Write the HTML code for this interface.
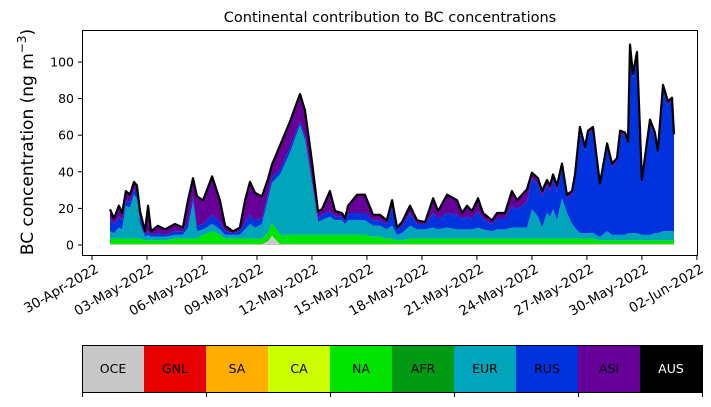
<!DOCTYPE html>
<html><head><meta charset="utf-8"><style>
body{margin:0;background:#fff;width:711px;height:402px;overflow:hidden;font-family:"Liberation Sans","DejaVu Sans",sans-serif}
svg text{font-family:"DejaVu Sans","Liberation Sans",sans-serif}
</style></head><body>
<svg id="c" width="711" height="402" xmlns="http://www.w3.org/2000/svg"></svg>
<script>
// days since 30-Apr-2022
const days=[0.98,1.20,1.47,1.64,1.85,2.07,2.29,2.45,2.62,2.89,3.06,3.22,3.60,3.98,4.53,4.96,5.24,5.51,5.73,6.06,6.55,6.98,7.26,7.69,8.07,8.35,8.62,8.89,9.27,9.60,9.82,10.26,10.80,11.35,11.62,12.00,12.33,12.55,12.98,13.26,13.64,13.80,13.97,14.46,14.89,15.33,15.71,16.09,16.37,16.64,16.91,17.35,17.73,18.17,18.61,18.88,19.37,19.91,20.19,20.46,20.73,21.06,21.33,21.82,22.10,22.53,22.91,23.19,23.73,24.00,24.33,24.55,24.82,24.99,25.15,25.37,25.64,25.91,26.19,26.35,26.62,26.90,27.06,27.33,27.71,28.10,28.37,28.64,28.81,29.08,29.24,29.35,29.51,29.73,30.00,30.44,30.71,30.87,31.15,31.42,31.64,31.75];
const oce=[0.5,0.5,0.5,0.5,0.5,0.5,0.5,0.5,0.5,0.5,0.5,0.5,0.5,0.5,0.5,0.5,0.5,0.5,0.5,0.5,0.5,0.5,0.5,0.5,0.5,0.5,0.5,0.5,0.5,2,5,0.5,0.5,0.5,0.5,0.5,0.5,0.5,0.5,0.5,0.5,0.5,0.5,0.5,0.5,0.5,0.5,0.5,0.5,0.5,0.5,0.5,0.5,0.5,0.5,0.5,0.5,0.5,0.5,0.5,0.5,0.5,0.5,0.5,0.5,0.5,0.5,0.5,0.5,0.5,0.5,0.5,0.5,0.5,0.5,0.5,0.5,0.5,0.5,0.5,0.5,0.5,0.5,0.5,0.5,0.5,0.5,0.5,0.5,0.5,0.5,0.5,0.5,0.5,0.5,0.5,0.5,0.5,0.5,0.5,0.5,0.5];
const na=[3,3,3,3,3,3,3,3,3,2,2,2,2,2,3,3,3,3,3,5,7,5,3,3,3,3,3,3,3,5,7,5,5,5,5,5,5,5,5,5,5,5,5,5,5,4,4,3,3,2,2,3,3,3,3,3,3,3,3,3,3,3,3,3,3,3,3,3,3,3,3,3,3,3,3,3,3,3,3,3,3,3,3,3,2,2,2,2,2,2,2,2,2,2,2,2,2,2,2,2,2,2];
const eur=[4,3,6,5,18,17,24,22,8,2,3,2,2,2,2,2,6,20,4,3,4,3,2,2,2,5,8,6,8,18,22,33,45,60,52,28,7,8,10,8,8,6,8,8,8,6,6,5,7,3,4,7,5,5,6,5,6,5,5,5,5,6,5,4,5,5,6,6,6,16,12,6,14,12,16,10,22,14,8,6,3,3,3,3,2,5,3,3,3,3,4,4,4,4,3,3,4,4,5,5,5,5];
const rus=[7,5,6,5,3,3,3,3,3,1,2,1,2,1,2,2,3,3,3,3,5,4,2,1,2,4,5,4,3,3,3,3,3,2,2,2,2,3,3,2,2,1,4,4,4,3,3,3,10,3,4,7,3,3,8,6,8,8,6,7,6,9,6,4,6,6,12,10,14,17,18,17,15,14,16,16,16,8,16,27,56,45,54,56,28,46,37,40,55,54,48,101,85,97,29,61,53,43,78,69,71,52];
const asi=[5,3,6,4,5,4,4,4,4,2,14,2,4,3,4,2,12,10,16,13,21,12,3,1,2,12,18,15,12,8,7,13,14,15,14,10,4,3,11,3,2,2,4,10,10,3,3,2,4,1,2,4,2,1,8,4,10,8,3,6,4,7,3,2,3,3,8,5,7,3,3,3,3,3,3,3,3,2,2,2,2,2,2,2,1,2,2,2,2,2,2,2,2,2,1,2,2,2,2,2,2,1];
const yTicks=[0,20,40,60,80,100];
const xTickDays=[0,3,6,9,12,15,18,21,24,27,30,33];
const xTickLabels=["30-Apr-2022","03-May-2022","06-May-2022","09-May-2022","12-May-2022","15-May-2022","18-May-2022","21-May-2022","24-May-2022","27-May-2022","30-May-2022","02-Jun-2022"];
const regions=["OCE","GNL","SA","CA","NA","AFR","EUR","RUS","ASI","AUS"];
const regionColors=["#c8c8c8","#e60000","#ffae00","#ccff00","#00e400","#009a14","#00a5bb","#0033dd","#660099","#000000"];

const NS="http://www.w3.org/2000/svg";
const svg=document.getElementById('c');
const X=d=>92+d*18.33, Y=v=>245-v*1.83;
function mk(tag,attrs,parent){const e=document.createElementNS(NS,tag);for(const k in attrs)e.setAttribute(k,attrs[k]);(parent||svg).appendChild(e);return e;}

const layers=[["oce",oce,regionColors[0]],["na",na,regionColors[4]],["eur",eur,regionColors[6]],["rus",rus,regionColors[7]],["asi",asi,regionColors[8]]];
let base=days.map(()=>0);
layers.forEach(([n,arr,col])=>{
  const top=base.map((b,i)=>b+arr[i]);
  let d="M"+days.map((t,i)=>X(t).toFixed(1)+","+Y(top[i]).toFixed(1)).join(" L");
  for(let i=days.length-1;i>=0;i--) d+=" L"+X(days[i]).toFixed(1)+","+Y(base[i]).toFixed(1);
  const p=mk('path',{d:d+"Z",fill:col,stroke:"none"});
  
  
  base=top;
});
const tl=mk('polyline',{points:days.map((t,i)=>X(t).toFixed(1)+","+Y(base[i]).toFixed(1)).join(" "),fill:"none",stroke:"#000","stroke-width":2.2,"stroke-linejoin":"round"});



const fr=mk('rect',{x:82.5,y:30.5,width:615,height:225,fill:"none",stroke:"#000","stroke-width":1});



yTicks.forEach(v=>{
  mk('line',{x1:78,x2:82.5,y1:Y(v),y2:Y(v),stroke:"#000"});
  const t=mk('text',{x:74,y:Y(v)+4.5,"text-anchor":"end","font-size":12.5});
  t.textContent=v;
  
  
});
xTickDays.forEach((d,i)=>{
  const x=X(d);
  mk('line',{x1:x,x2:x,y1:255.5,y2:260,stroke:"#000"});
  const t=mk('text',{x:0,y:11,"text-anchor":"end","font-size":13.5,transform:`translate(${x+2} 262) rotate(-30)`});
  t.textContent=xTickLabels[i];
  
  
});
const yt=mk('text',{x:33,y:142,"text-anchor":"middle","font-size":17,transform:"rotate(-90 33 142)"});
yt.innerHTML='BC concentration (ng m<tspan dy="-7" font-size="12">−3</tspan><tspan dy="7">)</tspan>';


const ti=mk('text',{x:390,y:22,"text-anchor":"middle","font-size":14.5});
ti.textContent="Continental contribution to BC concentrations";



regions.forEach((r,i)=>{
  const g=mk('g',{});
  
  
  mk('rect',{x:82+i*62,y:345,width:62.5,height:47,fill:regionColors[i]},g);
  const t=mk('text',{x:82+i*62+31,y:373,"text-anchor":"middle","font-size":12.5,fill:r==="AUS"?"#fff":"#000"},g);
  t.textContent=r;
});
mk('rect',{x:82.5,y:345.5,width:620,height:47,fill:"none",stroke:"#000"});
for(let i=0;i<=5;i++){const x=82.5+i*124;mk('line',{x1:x,x2:x,y1:392,y2:397,stroke:"#000"});}
</script>
</body></html>
